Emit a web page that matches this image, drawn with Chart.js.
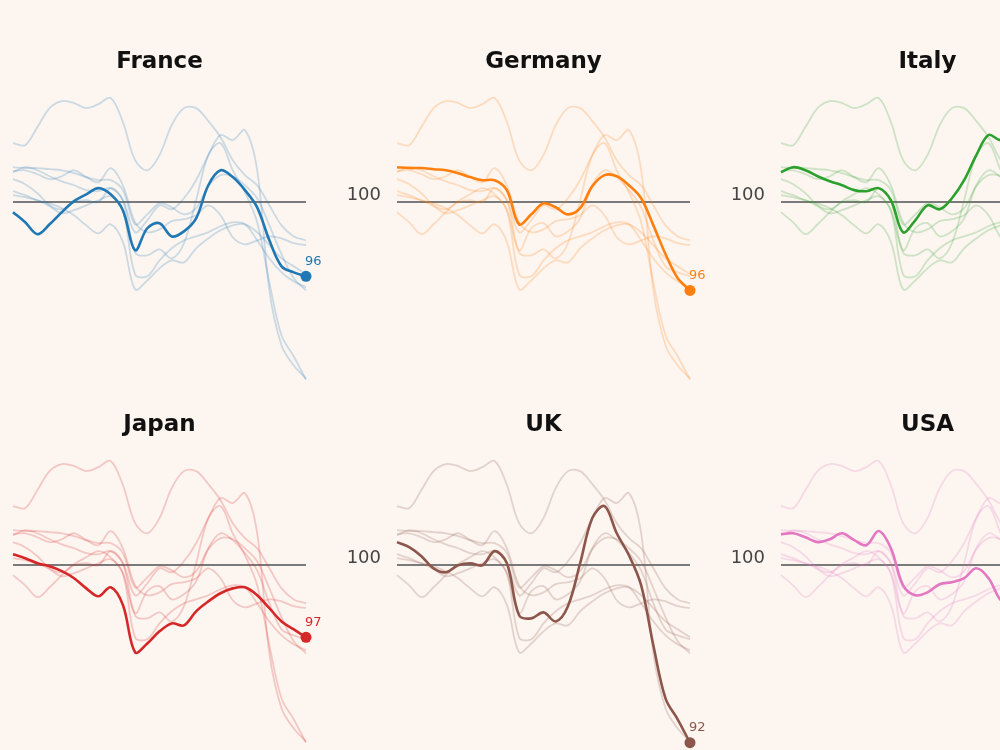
<!DOCTYPE html>
<html>
<head>
<meta charset="utf-8">
<script src="https://cdn.jsdelivr.net/npm/chart.js@4.4.1/dist/chart.umd.min.js"></script>
<style>
  html, body { margin: 0; padding: 0; background: #fcf5f0; overflow: hidden; }
  body { width: 1000px; height: 750px; position: relative; }
  canvas { position: absolute; }
</style>
</head>
<body>
<canvas id="p0" width="397" height="354"></canvas>
<canvas id="p1" width="397" height="354"></canvas>
<canvas id="p2" width="397" height="354"></canvas>
<canvas id="p3" width="397" height="354"></canvas>
<canvas id="p4" width="397" height="354"></canvas>
<canvas id="p5" width="397" height="354"></canvas>
<script>
// Index = 100
const france  = [99.55, 99.09, 98.55, 99.0, 99.55, 100.05, 100.36, 100.64, 100.36, 99.64, 97.82, 98.82, 99.05, 98.45, 98.68, 99.27, 100.77, 101.45, 101.14, 100.55, 99.77, 98.27, 97.09, 96.82, 96.64];
const germany = [101.59, 101.55, 101.55, 101.5, 101.45, 101.32, 101.14, 101.0, 101.0, 100.55, 99.0, 99.45, 99.95, 99.77, 99.45, 99.73, 100.73, 101.23, 101.18, 100.77, 100.18, 98.95, 97.64, 96.55, 96.0];
const italy   = [101.36, 101.59, 101.45, 101.18, 100.95, 100.77, 100.55, 100.5, 100.64, 100.09, 98.64, 99.18, 99.86, 99.68, 100.18, 101.0, 102.14, 103.05, 102.82, 103.27, 101.45, 96.0, 93.5, 92.59, 92.0];
const japan   = [100.5, 100.32, 100.09, 99.95, 99.73, 99.41, 98.95, 98.59, 99.0, 98.2, 96.05, 96.45, 97.0, 97.36, 97.27, 97.91, 98.36, 98.73, 98.95, 99.0, 98.64, 98.05, 97.45, 97.09, 96.73];
const uk      = [101.05, 100.82, 100.41, 99.86, 99.68, 100.0, 100.09, 100.0, 100.64, 100.09, 97.73, 97.59, 97.86, 97.45, 98.14, 100.09, 102.14, 102.68, 101.45, 100.45, 99.09, 96.36, 93.95, 93.0, 91.95];
const usa     = [101.41, 101.45, 101.27, 101.05, 101.18, 101.45, 101.14, 100.91, 101.55, 100.77, 99.09, 98.64, 98.77, 99.14, 99.23, 99.41, 99.86, 99.41, 98.41, 98.09, 98.27, 98.45, 98.36, 98.14, 98.05];
// two more series that only show up as faint background lines
const otherA  = [102.68, 102.59, 103.41, 104.27, 104.59, 104.5, 104.27, 104.45, 104.73, 103.64, 101.91, 101.45, 102.14, 103.5, 104.27, 104.27, 103.68, 102.95, 101.91, 101.23, 100.77, 99.86, 98.95, 98.45, 98.27];
const otherB  = [100.32, 100.23, 100.09, 99.82, 99.5, 99.64, 99.86, 100.09, 100.27, 99.64, 96.73, 96.64, 97.36, 97.91, 98.27, 98.45, 98.64, 98.91, 99.09, 99.0, 98.27, 97.45, 96.82, 96.41, 96.14];

const periods = france.map((_, i) => i);
const countries = ['France', 'Germany', 'Italy', 'Japan', 'UK', 'USA'];
const endLabels = ['96', '96', '92', '97', '92', '98'];
const allSeries = [france, germany, italy, japan, uk, usa, otherA, otherB];
const colors = ['#1f77b4', '#ff7f0e', '#2ca02c', '#d62728', '#8c564b', '#e377c2'];
const baseline = 100;

function fade(hex, a) {
    const n = parseInt(hex.slice(1), 16);
    return `rgba(${(n >> 16) & 255}, ${(n >> 8) & 255}, ${n & 255}, ${a})`;
}

// "100" next to the baseline + value label above the last point
const labels = {
    id: 'labels',
    afterDatasetsDraw(chart, args, opts) {
        const ctx = chart.ctx;
        const y = chart.scales.y.getPixelForValue(baseline);
        ctx.save();
        ctx.fillStyle = '#444';
        ctx.font = '18px "DejaVu Sans"';
        ctx.textAlign = 'right';
        ctx.textBaseline = 'middle';
        ctx.fillText(String(baseline), chart.chartArea.left - 16, y - 7);

        const meta = chart.getDatasetMeta(0);
        const pt = meta.data[meta.data.length - 1];
        ctx.fillStyle = opts.color;
        ctx.font = '13px "DejaVu Sans"';
        ctx.textAlign = 'left';
        ctx.fillText(opts.text, pt.x - 1, pt.y - 15);
        ctx.restore();
    }
};

countries.forEach((name, i) => {
    const canvas = document.getElementById('p' + i);
    canvas.style.left = (-39 + 384 * (i % 3)) + 'px';
    canvas.style.top = (40 + 363 * Math.floor(i / 3)) + 'px';

    const color = colors[i];
    const main = allSeries[i];
    const last = main.length - 1;

    const datasets = [{
        data: main,
        borderColor: color,
        backgroundColor: color,
        borderWidth: 2.6,
        tension: 0.35,
        pointRadius: ctx => ctx.dataIndex === last ? 5.5 : 0,
        pointBorderWidth: 0,
        clip: false
    }];
    allSeries.forEach((s, j) => {
        if (j === i) return;
        datasets.push({
            data: s,
            borderColor: fade(color, 0.22),
            borderWidth: 1.8,
            tension: 0.35,
            pointRadius: 0
        });
    });

    new Chart(canvas.getContext('2d'), {
        type: 'line',
        data: { labels: periods, datasets: datasets },
        options: {
            responsive: false,
            animation: false,
            devicePixelRatio: 1,
            layout: { autoPadding: false, padding: 0 },
            plugins: {
                legend: { display: false },
                tooltip: { enabled: false },
                title: {
                    display: true,
                    text: name,
                    color: '#111',
                    font: { family: 'DejaVu Sans', size: 23, weight: 'bold' },
                    padding: { top: 8, bottom: 1 }
                },
                labels: { text: endLabels[i], color: color }
            },
            scales: {
                x: { display: false, offset: false },
                y: {
                    min: 91.3,
                    max: 105.7,
                    afterBuildTicks: axis => { axis.ticks = [{ value: baseline }]; },
                    afterFit: axis => { axis.width = 52; },
                    border: { display: false },
                    grid: { drawTicks: false, color: '#7a7a7a', lineWidth: 2 },
                    ticks: { display: false }
                },
                // empty right-hand axis keeps the plot centred under the title
                yRight: {
                    position: 'right',
                    min: 91.3,
                    max: 105.7,
                    border: { display: false },
                    grid: { display: false },
                    ticks: { display: false },
                    afterFit: axis => { axis.width = 52; }
                }
            }
        },
        plugins: [labels]
    });
});
</script>
</body>
</html>
